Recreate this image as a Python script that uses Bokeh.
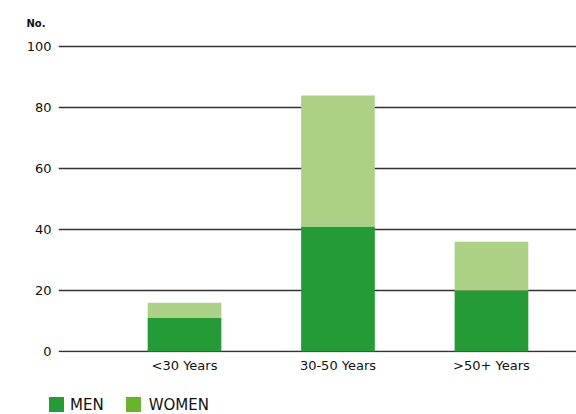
from bokeh.plotting import figure
from bokeh.models import ColumnDataSource, FixedTicker, Range1d, Div
from bokeh.layouts import column
from bokeh.embed import file_html
from bokeh.resources import INLINE

categories = ["<30 Years", "30-50 Years", ">50+ Years"]
men = [11, 41, 20]
women = [5, 43, 16]
y_ticks = [0, 20, 40, 60, 80, 100]
series_names = ["MEN", "WOMEN"]

MEN_COLOR = "#249b37"
WOMEN_COLOR = "#add087"
WOMEN_LEGEND = "#6ab42d"
FONT = "DejaVu Sans"

xs = list(range(1, len(categories) + 1))
src = ColumnDataSource(dict(x=xs, men=men, women=women))

p = figure(width=576, height=393, output_backend="svg", toolbar_location=None,
           x_range=Range1d(0.179, 3.554), y_range=Range1d(-0.3, 102),
           min_border_left=58, min_border_right=0, min_border_top=40, min_border_bottom=41)
p.outline_line_color = None
p.xgrid.grid_line_color = None
p.ygrid.ticker = FixedTicker(ticks=y_ticks)
p.ygrid.grid_line_color = "#333333"
p.ygrid.grid_line_width = 1.3
p.ygrid.level = "underlay"

p.title.text = "No."
p.title.align = "left"
p.title.offset = -32
p.title.standoff = 24
p.title.text_font = FONT
p.title.text_font_size = "10px"
p.title.text_font_style = "bold"
p.title.text_color = "#111111"

p.vbar_stack(["men", "women"], x="x", width=0.48, source=src,
             color=[MEN_COLOR, WOMEN_COLOR], line_color=None)

for ax in (p.xaxis[0], p.yaxis[0]):
    ax.axis_line_color = None
    ax.major_tick_line_color = None
    ax.minor_tick_line_color = None
    ax.major_tick_out = 0
    ax.major_tick_in = 0
    ax.minor_tick_out = 0
    ax.major_label_text_font = FONT
    ax.major_label_text_font_size = "13px"
    ax.major_label_text_color = "#111111"

p.yaxis.ticker = FixedTicker(ticks=y_ticks)
p.yaxis.major_label_standoff = 7
p.xaxis.ticker = FixedTicker(ticks=xs)
p.xaxis.major_label_overrides = {x: c for x, c in zip(xs, categories)}
p.xaxis.major_label_standoff = 5

sw = "display:inline-block;width:15px;height:15px;vertical-align:middle;"
legend_html = (
    f'<div style="font-family:\'{FONT}\';font-size:15px;color:#111111;padding-top:3px;'
    f'padding-left:49px;white-space:nowrap;line-height:16px;">'
    f'<span style="{sw}background:{MEN_COLOR};margin-right:6px;"></span>'
    f'<span style="vertical-align:middle;">{series_names[0]}</span>'
    f'<span style="{sw}background:{WOMEN_LEGEND};margin-left:22px;margin-right:8px;"></span>'
    f'<span style="vertical-align:middle;">{series_names[1]}</span></div>'
)
div = Div(text=legend_html, width=576, height=21, margin=(0, 0, 0, 0))

layout = column(p, div, spacing=0, margin=(0, 0, 0, 0))
open("out.html", "w").write(file_html(layout, INLINE))
